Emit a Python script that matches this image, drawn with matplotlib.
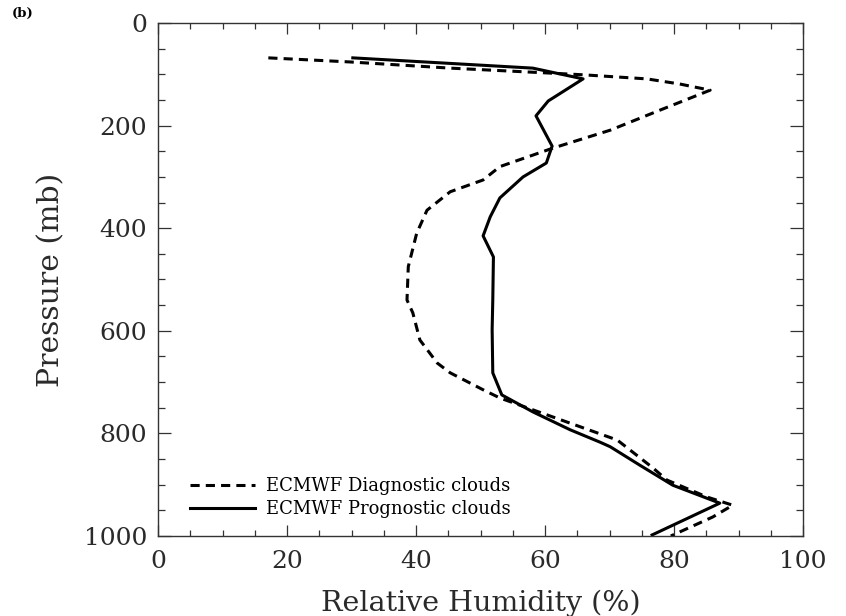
"""Relative humidity profiles: ECMWF diagnostic vs prognostic clouds (panel b)."""

import matplotlib
matplotlib.use("Agg")
import matplotlib.pyplot as plt
from matplotlib.ticker import MultipleLocator

# Diagnostic clouds (dashed) -- pressure (mb) / RH (%)
diag_p  = [68, 76, 88, 97, 101, 109, 119, 131, 170, 209, 244, 280, 306, 329,
           365, 410, 475, 540, 565, 618, 663, 682, 715, 731, 754, 813, 867,
           891, 924, 940, 963, 1000]
diag_rh = [17.1, 29.8, 45.3, 59.7, 65.9, 75.8, 80.9, 85.6, 77.8, 70.1, 61.2,
           53.0, 50.4, 45.3, 41.7, 40.1, 38.8, 38.6, 39.5, 40.6, 43.3, 45.3,
           50.4, 53.0, 58.1, 71.2, 76.7, 78.9, 85.1, 89.1, 86.0, 79.5]

# Prognostic clouds (solid)
prog_p  = [68, 88, 109, 152, 181, 240, 273, 300, 341, 378, 415, 456, 540, 598,
           682, 725, 758, 793, 817, 826, 862, 901, 936, 998]
prog_rh = [30.2, 58.1, 65.9, 60.5, 58.6, 61.1, 60.2, 56.6, 53.0, 51.5, 50.4,
           52.0, 51.9, 51.8, 51.9, 53.3, 58.1, 63.9, 68.5, 70.1, 74.7, 79.8,
           87.1, 76.6]

SERIF = "DejaVu Serif"
TXT = "#2a2a2a"


def main() -> None:
    fig = plt.figure(figsize=(8.46, 6.16), dpi=100)
    ax = fig.add_axes([0.1868, 0.1299, 0.7624, 0.8328])

    ax.plot(diag_rh, diag_p, color="black", lw=2.2, ls=(0, (3.0, 2.0)),
            label="ECMWF Diagnostic clouds")
    ax.plot(prog_rh, prog_p, color="black", lw=2.2, ls="-",
            label="ECMWF Prognostic clouds")

    ax.set_xlim(0, 100)
    ax.set_ylim(1000, 0)
    ax.xaxis.set_major_locator(MultipleLocator(20))
    ax.xaxis.set_minor_locator(MultipleLocator(5))
    ax.yaxis.set_major_locator(MultipleLocator(200))
    ax.yaxis.set_minor_locator(MultipleLocator(50))

    ax.tick_params(axis="both", which="both", direction="in",
                   top=True, right=True, color="#333333", width=0.9)
    ax.tick_params(axis="x", which="major", length=7.6, pad=10)
    ax.tick_params(axis="x", which="minor", length=4)
    ax.tick_params(axis="y", which="major", length=9.5, pad=8)
    ax.tick_params(axis="y", which="minor", length=4.8)
    for lab in ax.get_xticklabels() + ax.get_yticklabels():
        lab.set_fontfamily(SERIF)
        lab.set_fontsize(18)
        lab.set_color(TXT)
    for sp in ax.spines.values():
        sp.set_linewidth(1.0)
        sp.set_color("#333333")

    ax.set_xlabel("Relative Humidity (%)", family=SERIF, fontsize=20.5,
                  color=TXT, labelpad=12)
    ax.set_ylabel("Pressure (mb)", family=SERIF, fontsize=21.5,
                  color=TXT, labelpad=13)

    ax.legend(loc="lower left", frameon=False, handlelength=3.6,
              handletextpad=0.6, labelspacing=0.3, borderaxespad=0,
              bbox_to_anchor=(0.039, 0.020),
              prop={"family": SERIF, "size": 13})

    fig.text(0.014, 0.972, "(b)", family=SERIF, fontsize=9.5, weight="bold")

    fig.savefig("out.png", dpi=100)
    plt.close(fig)


if __name__ == "__main__":
    main()
